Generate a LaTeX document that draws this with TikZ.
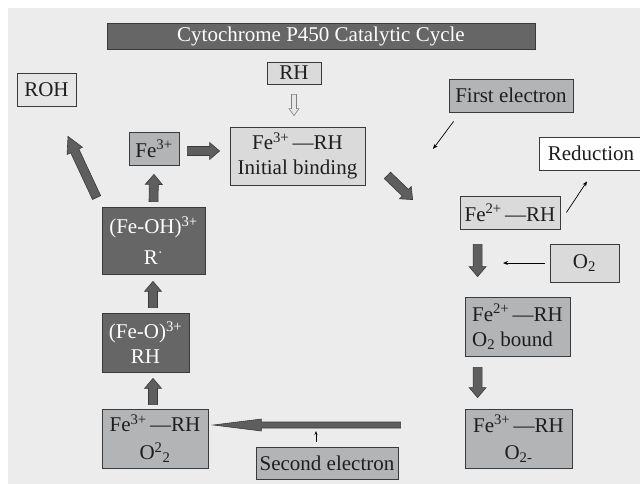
\documentclass[tikz,border=0pt]{standalone}
\usepackage{fontspec}
\setmainfont{Liberation Serif}
\usetikzlibrary{arrows.meta,calc,positioning}
\definecolor{cybg}{HTML}{ECECEC}
\definecolor{cydark}{HTML}{666666}
\definecolor{cymid}{HTML}{B3B4B6}
\definecolor{cylight}{HTML}{DADADA}
\definecolor{cypale}{HTML}{E6E6E6}
\definecolor{cyline}{HTML}{3A3A3A}
\definecolor{cyarrow}{HTML}{5E5E5E}
\definecolor{cytext}{HTML}{1E1E1E}
% block arrow: [style]{(from)}{(to)}
\def\bashaft{4.5pt}\def\bawing{8.5pt}\def\bahead{10pt}
\tikzset{ba shaft/.code={\def\bashaft{#1}},
  ba wing/.code={\def\bawing{#1}},
  ba head/.code={\def\bahead{#1}}}
\newcommand\blockarrow[3][]{%
  \begin{scope}[#1]
    \coordinate (ba-s) at #2;
    \coordinate (ba-e) at #3;
    \coordinate (ba-h) at ($(ba-e)!\bahead!(ba-s)$);
    \path[blockarrow,#1] ($(ba-s)!\bashaft!90:(ba-e)$) -- ($(ba-h)!\bashaft!90:(ba-e)$)
      -- ($(ba-h)!\bawing!90:(ba-e)$) -- (ba-e) -- ($(ba-h)!\bawing!-90:(ba-e)$)
      -- ($(ba-h)!\bashaft!-90:(ba-e)$) -- ($(ba-s)!\bashaft!-90:(ba-e)$) -- cycle;
  \end{scope}}

\begin{document}
\begin{tikzpicture}[x=1pt,y=-1pt,
  box/.style={draw=cyline,line width=0.8pt,inner sep=0pt,text=cytext,
    font=\fontsize{21}{25}\selectfont,align=center},
  darkbox/.style={box,fill=cydark,text=white},
  midbox/.style={box,fill=cymid},
  lightbox/.style={box,fill=cylight},
  thinarrow/.style={draw=black,line width=0.7pt,-{Stealth[length=5pt,width=4pt]}},
  blockarrow/.style={fill=cyarrow,draw=cyline,line width=0.6pt,line join=miter},
  hollowarrow/.style={ba shaft=2.5pt,ba wing=5pt,ba head=7pt}]
  \useasboundingbox (0,0) rectangle (640,484);
  \fill[cybg] (8,8) rectangle (640,484);
  % Title
  \node[darkbox,minimum width=428pt,minimum height=26pt] (title) at (321,36) {Cytochrome P450 Catalytic Cycle};
  % Upper row
  \node[lightbox,minimum width=54pt,minimum height=22pt] (rh) at (294,73) {RH};
  \node[box,fill=cypale,minimum width=59pt,minimum height=33pt] (roh) at (46.5,89.5) {ROH};
  \node[midbox,minimum width=124pt,minimum height=33pt] (first) at (511,95.5) {First electron};
  \node[midbox,minimum width=50pt,minimum height=33pt] (fe3) at (154,148.5) {Fe\textsuperscript{3+}};
  \node[lightbox,minimum width=135pt,minimum height=58pt] (init) at (297.5,156) {Fe\textsuperscript{3+}\,—RH\\Initial binding};
  \node[box,fill=white,minimum width=104pt,minimum height=33pt] (reduct) at (591,153.5) {Reduction};
  % Right column
  \node[lightbox,minimum width=100pt,minimum height=33pt] (fe2) at (510,212.5) {Fe\textsuperscript{2+}\,—RH};
  \node[lightbox,minimum width=69pt,minimum height=38pt] (o2) at (584.5,263) {O\textsubscript{2}};
  \node[midbox,align=left,minimum width=105pt,minimum height=59pt] (o2b) at (517.5,326.5) {Fe\textsuperscript{2+}\,—RH\\O\textsubscript{2} bound};
  \node[midbox,minimum width=107pt,minimum height=59pt] (o2m) at (518.5,438.5) {Fe\textsuperscript{3+}\,—RH\\[2pt]O\textsubscript{2-}};
  % Bottom and left column
  \node[midbox,minimum width=142pt,minimum height=32pt] (second) at (327,463) {Second electron};
  \node[midbox,minimum width=106pt,minimum height=59pt] (o22) at (155,438.5) {Fe\textsuperscript{3+}\,—RH\\[3pt]O\textsuperscript{2}\textsubscript{2}};
  \node[darkbox,minimum width=87pt,minimum height=59pt] (feo) at (145.5,342.5) {(Fe-O)\textsuperscript{3+}\\RH};
  \node[darkbox,minimum width=103pt,minimum height=67pt] (feoh) at (153.5,240.5) {(Fe-OH)\textsuperscript{3+}\\[6pt]R\textsuperscript{·}};
  % Cycle arrows
  \blockarrow{([shift={(8,2.5)}]fe3.east)}{([shift={(-10,-5)}]init.west)}
  \blockarrow{([shift={(22,-10)}]init.south east)}{([shift={(-47,4)}]fe2.north west)}
  \blockarrow{([shift={(18,15)}]fe2.south west)}{([shift={(13,-20)}]o2b.north west)}
  \blockarrow{([shift={(13,11)}]o2b.south west)}{([shift={(13,-11)}]o2m.north west)}
  \blockarrow[ba shaft=3pt,ba wing=6pt,ba head=48pt]{([shift={(-64,-13.5)}]o2m.west)}{([shift={(5,-13.5)}]o22.east)}
  \blockarrow{([shift={(-2,-4)}]o22.north)}{([shift={(7.5,6)}]feo.south)}
  \blockarrow{([shift={(7.5,-5)}]feo.north)}{([shift={(-0.5,7)}]feoh.south)}
  \blockarrow{([shift={(0,-5)}]feoh.north)}{([shift={(0,9)}]fe3.south)}
  \blockarrow[ba head=16pt]{([shift={(-5,-9)}]feoh.north west)}{([shift={(21.5,30)}]roh.south)}
  \blockarrow[hollowarrow,fill=cypale,draw=gray]{([shift={(0,10)}]rh.south)}{([shift={(-3.5,-11)}]init.north)}
  % Electrons, oxygen, side product
  \coordinate (elec1) at (433,149);
  \draw[thinarrow] ([shift={(5,9)}]first.south west) -- (elec1);
  \draw[thinarrow] ([shift={(6,0)}]fe2.east) -- ([shift={(-4,11)}]reduct.south);
  \coordinate (o2in) at (503,263);
  \draw[thinarrow] ([shift={(-5,0)}]o2.west) -- (o2in);
  \coordinate (elec2) at (316,431);
  \draw[thinarrow,-{Stealth[length=4pt,width=3pt]}] ([shift={(-11,-5)}]second.north) -- (elec2);
\end{tikzpicture}
\end{document}
